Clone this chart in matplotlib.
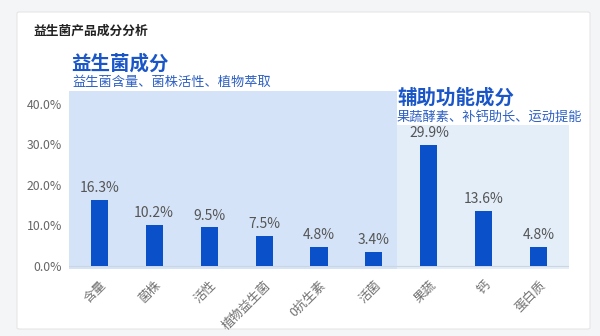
import matplotlib
matplotlib.use("Agg")
import matplotlib.pyplot as plt
from matplotlib.patches import FancyBboxPatch, Rectangle

plt.rcParams['font.family'] = ['Noto Sans CJK SC', 'DejaVu Sans']

categories = ['含量', '菌株', '活性', '植物益生菌', '0抗生素', '活菌', '果蔬', '钙', '蛋白质']
values = [16.3, 10.2, 9.5, 7.5, 4.8, 3.4, 29.9, 13.6, 4.8]
yticks = [0, 10, 20, 30, 40]
title = '益生菌产品成分分析'
group1_title = '益生菌成分'
group1_sub = '益生菌含量、菌株活性、植物萃取'
group2_title = '辅助功能成分'
group2_sub = '果蔬酵素、补钙助长、运动提能'

W, H = 600, 336
fig = plt.figure(figsize=(6, 3.36), dpi=100)
fig.patch.set_facecolor('#f4f5f7')

# card
card = FancyBboxPatch((17 / W, 1 - 329 / H), (590 - 17) / W, (329 - 12) / H,
                      boxstyle='round,pad=0,rounding_size=0.004',
                      transform=fig.transFigure, facecolor='white',
                      edgecolor='#e6e6e6', linewidth=0.8, zorder=-5)
fig.patches.append(card)

ax = fig.add_axes([69 / W, 1 - 269 / H, (569 - 69) / W, (269 - 91) / H])
ax.set_zorder(2)
ax.set_facecolor('none')
ax.set_xlim(-0.55, 8.55)
ax.set_ylim(-0.75, 43.2)

split = 5.42
ax.add_patch(Rectangle((-0.55, -0.75), split + 0.55, 43.95, facecolor='#d4e3f7',
                       edgecolor='none', zorder=0))
ax.add_patch(Rectangle((split, -0.75), 8.55 - split, 34.8 + 0.75, facecolor='#e3eef9',
                       edgecolor='none', zorder=0))

x = list(range(len(categories)))
ax.bar(x, values, width=0.31, color='#0a50c8', zorder=2)
for xi, v in zip(x, values):
    ax.text(xi, v + 1.2, f'{v:.1f}%', ha='center', va='bottom', fontsize=10,
            color='#555555', zorder=3)

ax.axhline(0, color='#cdd6e0', linewidth=0.8, zorder=1)

ax.set_yticks(yticks)
ax.set_yticklabels([f'{t:.1f}%' for t in yticks], fontsize=8.8, color='#666666')
ax.set_xticks(x)
ax.set_xticklabels(categories, rotation=45, ha='right', rotation_mode='anchor',
                   fontsize=9, color='#707070')
ax.tick_params(axis='both', length=0)
ax.tick_params(axis='x', pad=7)
ax.tick_params(axis='y', pad=5)
for s in ax.spines.values():
    s.set_visible(False)

fig.text(33 / W, 1 - 31 / H, title, fontsize=9.2, fontweight='bold',
         color='#222222', va='center', ha='left', zorder=5)
fig.text(71 / W, 1 - 64 / H, group1_title, fontsize=14, fontweight='bold',
         color='#1a56c8', va='center', ha='left', zorder=5)
fig.text(72 / W, 1 - 82 / H, group1_sub, fontsize=9.5, color='#2d60c4',
         va='center', ha='left', zorder=5)
fig.text(397 / W, 1 - 98 / H, group2_title, fontsize=14, fontweight='bold',
         color='#1a56c8', va='center', ha='left', zorder=5)
fig.text(397 / W, 1 - 117 / H, group2_sub, fontsize=9.5, color='#2d60c4',
         va='center', ha='left', zorder=5)

fig.savefig('out.png', dpi=100, facecolor=fig.get_facecolor())
